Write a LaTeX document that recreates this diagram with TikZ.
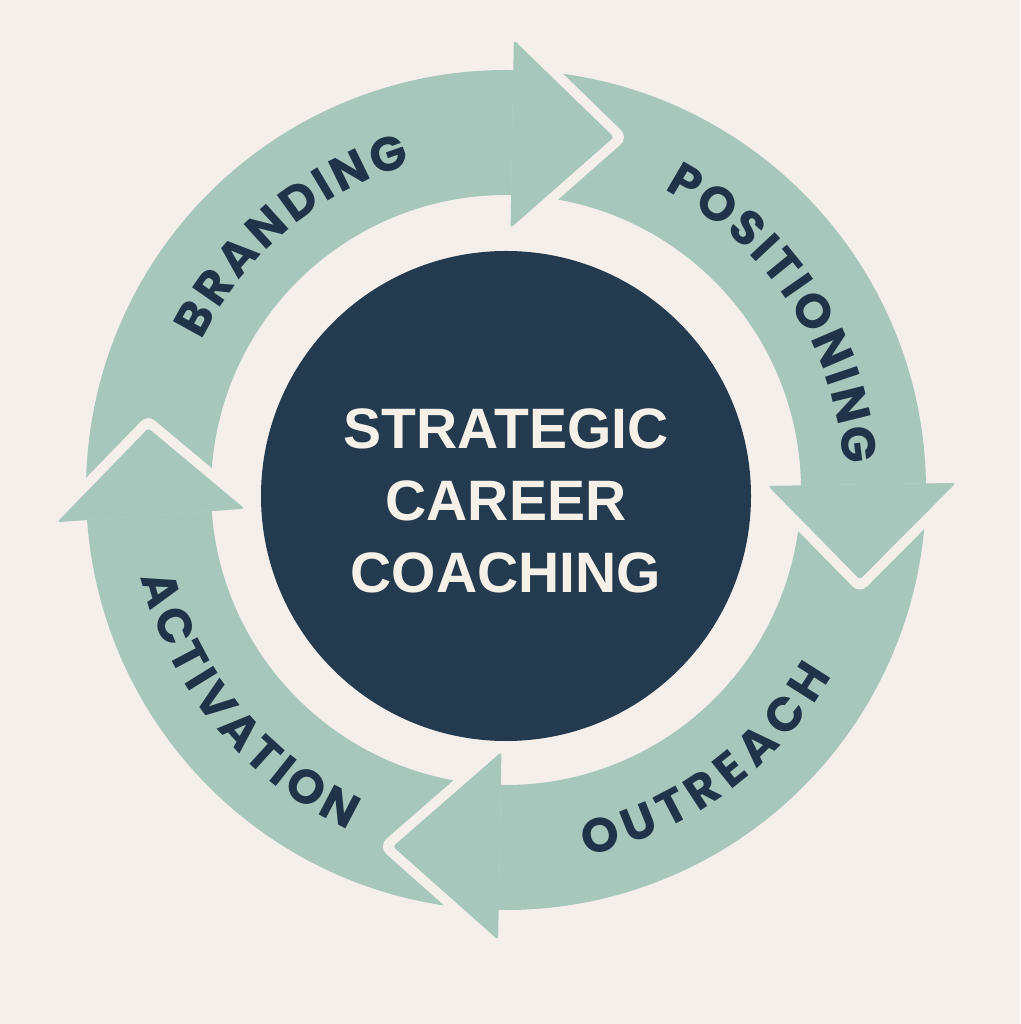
\documentclass[tikz,border=0pt]{standalone}
\usepackage{fontspec}
\setmainfont{Liberation Sans}
\newfontfamily\ringfont{Poppins}
\usetikzlibrary{decorations.text}
\definecolor{bg}{HTML}{F4EFEB}
\definecolor{sage}{HTML}{A7C6BC}
\definecolor{navy}{HTML}{243B4F}
\definecolor{cream}{HTML}{F5F0E8}
\definecolor{ink}{HTML}{1F3448}
\newcommand\ringband[2]{%
  \fill[sage] (#1:420pt) arc[start angle=#1,end angle=#2,radius=420pt]
    -- (#2:295pt) arc[start angle=#2,end angle=#1,radius=295pt] -- cycle;}
\newcommand\ringhead[3]{%
  \draw[bg,line width=20pt,line join=round,line cap=round]
    (#1:262pt) -- (#2:#3pt) -- (#1:450pt);
  \fill[sage,rounded corners=3pt] (#1:262pt) -- (#2:#3pt) -- (#1:450pt) -- cycle;}
\tikzset{
  ringlabel/.style={decorate,decoration={text along path,
    text={|\ringfont\bfseries\fontsize{48pt}{48pt}\selectfont|#1},
    text color=ink, text align=fit to path}}
}
\begin{document}
\begin{tikzpicture}[x=1pt,y=1pt]
\fill[bg] (-506,-534) rectangle (514,490);
\useasboundingbox (-506,-534) rectangle (514,490);
\coordinate (ctr) at (0,0);
% bands
\ringband{184.1}{89}
\ringband{89}{0.9}
\ringband{0.9}{-91}
\ringband{-91}{-175.9}
% heads
\ringhead{89}{73}{369}
\ringhead{0.9}{-14.2}{365}
\ringhead{-91}{-107.6}{374}
\ringhead{184.1}{170.2}{363}
% labels
\path[ringlabel=BRANDING] (153.8:339pt) arc[start angle=153.8,end angle=106.2,radius=339pt];
\path[ringlabel=POSITIONING] (62.2:339pt) arc[start angle=62.2,end angle=4.2,radius=339pt];
\path[ringlabel=OUTREACH] (-77.6:375pt) arc[start angle=-77.6,end angle=-29.7,radius=375pt];
\path[ringlabel=ACTIVATION] (-166.5:375pt) arc[start angle=-166.5,end angle=-114.9,radius=375pt];
% hub
\node[circle,fill=navy,minimum size=490pt,inner sep=0pt] (hub) at (0,-6) {};
\node[text=cream,font=\bfseries\fontsize{57pt}{72pt}\selectfont,align=center] (title) at (0,-11) {STRATEGIC\\CAREER\\COACHING};
\end{tikzpicture}
\end{document}
